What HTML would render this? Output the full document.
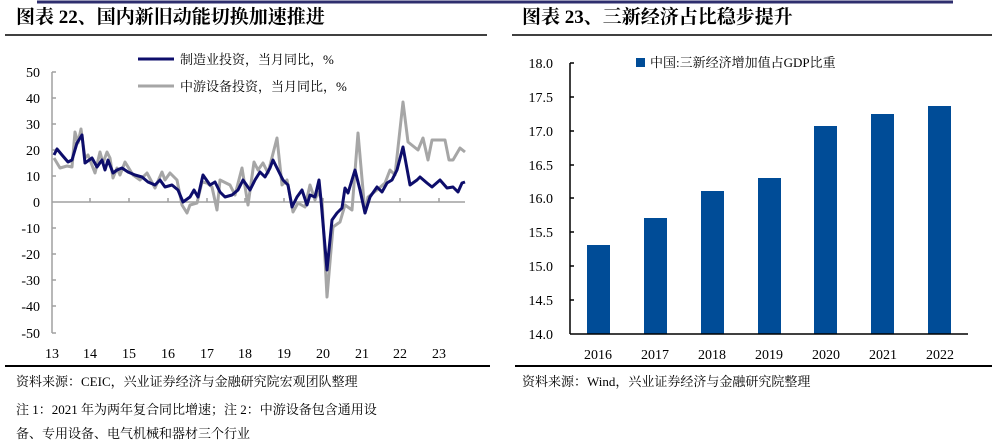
<!DOCTYPE html>
<html><head><meta charset="utf-8"><style>
body{margin:0;background:#fff;width:1000px;height:445px;overflow:hidden}
svg{display:block}
.s{font-family:"Liberation Serif","Noto Serif CJK SC",serif}
</style></head><body>
<svg width="1000" height="445" class="s">
<!-- top lines -->
<line x1="37" y1="2" x2="500" y2="2" stroke="#2e2e6e" stroke-width="3"/>
<line x1="500" y1="2" x2="953" y2="2" stroke="#2e2e6e" stroke-width="3"/>
<text x="16" y="23" font-size="19" font-weight="bold" font-family="Liberation Serif,Noto Serif CJK SC,serif">图表 22、国内新旧动能切换加速推进</text>
<text x="522" y="23" font-size="19" font-weight="bold" font-family="Liberation Serif,Noto Serif CJK SC,serif">图表 23、三新经济占比稳步提升</text>
<line x1="5" y1="35" x2="487" y2="35" stroke="#000" stroke-width="1.5"/>
<line x1="512" y1="35" x2="992" y2="35" stroke="#000" stroke-width="1.5"/>

<!-- left chart axes -->
<g stroke="#a0a0a0" stroke-width="1.5" fill="none">
<line x1="52" y1="72" x2="52" y2="333"/>
<line x1="52" y1="202" x2="465" y2="202"/>
<line x1="52" y1="72" x2="56" y2="72"/><line x1="52" y1="98" x2="56" y2="98"/><line x1="52" y1="124" x2="56" y2="124"/><line x1="52" y1="150" x2="56" y2="150"/><line x1="52" y1="176" x2="56" y2="176"/><line x1="52" y1="228" x2="56" y2="228"/><line x1="52" y1="254" x2="56" y2="254"/><line x1="52" y1="280" x2="56" y2="280"/><line x1="52" y1="306" x2="56" y2="306"/><line x1="52" y1="333" x2="56" y2="333"/>
<line x1="90" y1="202" x2="90" y2="198"/><line x1="129" y1="202" x2="129" y2="198"/><line x1="168" y1="202" x2="168" y2="198"/><line x1="207" y1="202" x2="207" y2="198"/><line x1="245" y1="202" x2="245" y2="198"/><line x1="284" y1="202" x2="284" y2="198"/><line x1="323" y1="202" x2="323" y2="198"/><line x1="362" y1="202" x2="362" y2="198"/><line x1="400" y1="202" x2="400" y2="198"/><line x1="439" y1="202" x2="439" y2="198"/>
</g>
<g font-size="14" text-anchor="end">
<text x="40" y="77">50</text><text x="40" y="103">40</text><text x="40" y="129">30</text><text x="40" y="155">20</text><text x="40" y="181">10</text><text x="40" y="207">0</text><text x="40" y="233">-10</text><text x="40" y="259">-20</text><text x="40" y="285">-30</text><text x="40" y="311">-40</text><text x="40" y="338">-50</text>
</g>
<g font-size="14" text-anchor="middle">
<text x="52" y="358">13</text><text x="90" y="358">14</text><text x="129" y="358">15</text><text x="168" y="358">16</text><text x="207" y="358">17</text><text x="245" y="358">18</text><text x="284" y="358">19</text><text x="323" y="358">20</text><text x="362" y="358">21</text><text x="400" y="358">22</text><text x="439" y="358">23</text>
</g>
<polyline fill="none" stroke="#a6a6a6" stroke-width="3" stroke-linejoin="round" points="54,158 60,168 67,166 72,167 75,132 78,143 81,129 85,158 88,155 95,173 100,152 103,163 107,152 110,158 113,178 117,168 120,175 125,162 133,175 140,180 147,173 155,188 162,172 165,180 170,173 177,180 182,205 187,213 190,205 197,203 202,182 207,183 212,187 217,210 220,180 230,185 235,195 242,168 248,205 254,162 258,170 263,163 268,173 277,138 282,185 287,180 293,212 298,203 305,207 310,185 315,200 318,192 322,200 327,297 333,227 340,222 345,205 352,210 358,133 365,213 368,197 377,190 385,183 390,170 395,175 403,102 408,142 418,150 423,138 428,160 432,140 445,140 449,160 453,160 460,148 465,152"/>
<polyline fill="none" stroke="#0d0d6b" stroke-width="3" stroke-linejoin="round" points="54,155 57,149 62,155 68,162 72,160 77,143 82,135 85,163 92,158 97,167 102,160 105,170 108,160 113,173 117,170 122,168 128,172 135,175 142,177 148,182 155,185 160,180 165,187 172,185 178,190 183,202 190,197 194,190 198,197 203,175 210,185 215,182 220,192 225,197 232,195 238,190 243,180 250,190 255,180 260,172 265,177 270,168 273,160 278,170 283,180 288,185 292,207 297,197 302,190 307,205 310,195 315,197 319,180 321,200 327,270 332,220 337,213 342,208 345,188 348,193 355,170 360,190 365,213 370,197 377,187 382,192 387,183 392,180 397,170 403,147 410,185 417,180 420,177 427,183 432,187 440,180 447,188 453,187 458,192 462,183 465,182"/>
<!-- legend -->
<line x1="138" y1="59" x2="174" y2="59" stroke="#0d0d6b" stroke-width="3"/>
<text x="180" y="64" font-size="13" font-family="Liberation Serif,Noto Serif CJK SC,serif">制造业投资，当月同比，%</text>
<line x1="138" y1="86" x2="174" y2="86" stroke="#a6a6a6" stroke-width="3"/>
<text x="180" y="91" font-size="13" font-family="Liberation Serif,Noto Serif CJK SC,serif">中游设备投资，当月同比，%</text>

<!-- right chart -->
<g fill="#004c97">
<rect x="587" y="245" width="23" height="89"/>
<rect x="644" y="218" width="23" height="116"/>
<rect x="701" y="191" width="23" height="143"/>
<rect x="758" y="178" width="23" height="156"/>
<rect x="814" y="126" width="23" height="208"/>
<rect x="871" y="114" width="23" height="220"/>
<rect x="928" y="106" width="23" height="228"/>
</g>
<g stroke="#000" stroke-width="1.5">
<line x1="570" y1="63" x2="570" y2="334"/>
<line x1="570" y1="334" x2="968" y2="334"/>
<line x1="570" y1="63" x2="574" y2="63"/><line x1="570" y1="97" x2="574" y2="97"/><line x1="570" y1="131" x2="574" y2="131"/><line x1="570" y1="165" x2="574" y2="165"/><line x1="570" y1="198" x2="574" y2="198"/><line x1="570" y1="232" x2="574" y2="232"/><line x1="570" y1="266" x2="574" y2="266"/><line x1="570" y1="300" x2="574" y2="300"/>
</g>
<g font-size="14" text-anchor="end">
<text x="553" y="68">18.0</text><text x="553" y="102">17.5</text><text x="553" y="136">17.0</text><text x="553" y="170">16.5</text><text x="553" y="203">16.0</text><text x="553" y="237">15.5</text><text x="553" y="271">15.0</text><text x="553" y="305">14.5</text><text x="553" y="339">14.0</text>
</g>
<g font-size="14" text-anchor="middle">
<text x="598" y="359">2016</text><text x="655" y="359">2017</text><text x="712" y="359">2018</text><text x="769" y="359">2019</text><text x="826" y="359">2020</text><text x="883" y="359">2021</text><text x="940" y="359">2022</text>
</g>
<rect x="636" y="58" width="9" height="9" fill="#004c97"/>
<text x="650" y="67" font-size="13" font-family="Liberation Serif,Noto Serif CJK SC,serif">中国:三新经济增加值占GDP比重</text>

<!-- bottom lines & notes -->
<line x1="5" y1="366" x2="490" y2="366" stroke="#000" stroke-width="2"/>
<line x1="515" y1="366" x2="992" y2="366" stroke="#000" stroke-width="2"/>
<g font-size="13" font-family="Liberation Serif,Noto Serif CJK SC,serif">
<text x="16" y="386">资料来源：CEIC，兴业证券经济与金融研究院宏观团队整理</text>
<text x="16" y="414">注 1：2021 年为两年复合同比增速；注 2：中游设备包含通用设</text>
<text x="16" y="438">备、专用设备、电气机械和器材三个行业</text>
<text x="522" y="386">资料来源：Wind，兴业证券经济与金融研究院整理</text>
</g>
</svg>
</body></html>
